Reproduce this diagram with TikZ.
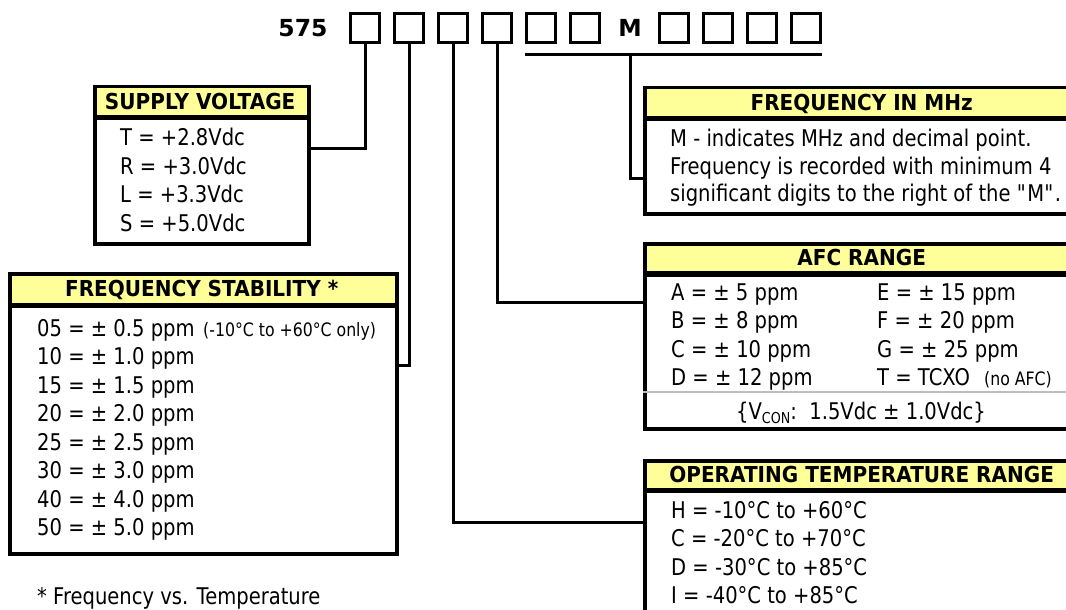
\documentclass[tikz,border=0pt]{standalone}
\usepackage{fontspec}
\setmainfont{DejaVu Sans}[FakeStretch=0.85]
\newfontfamily\codefont{DejaVu Sans}
\newfontfamily\headfont{DejaVu Sans}[FakeStretch=0.91]
\usetikzlibrary{calc}
\definecolor{hdyellow}{RGB}{255,255,153}
\definecolor{sepgray}{RGB}{190,190,190}

\begin{document}
\begin{tikzpicture}[x=1pt, y=-1pt,
  digit/.style={draw, line width=3.3, minimum size=28.5, inner sep=0},
  codetxt/.style={font=\codefont\bfseries\fontsize{23.5}{26}\selectfont, inner sep=0},
  wire/.style={line width=3, line join=miter},
  head/.style={fill=hdyellow, anchor=north west, inner sep=0, minimum height=32,
    text height=16, text depth=0, font=\headfont\bfseries\fontsize{22}{24}\selectfont},
  panel/.style={draw, line width=3.5, anchor=north west, inner sep=0},
  rule/.style={line width=5.5},
  row/.style={anchor=base west, inner sep=0, font=\fontsize{23}{28}\selectfont},
  small/.style={anchor=base west, inner sep=0, font=\fontsize{18.5}{20}\selectfont}]
  \useasboundingbox (0,0) rectangle (1066,610);
  \clip (0,0) rectangle (1066,610);
  % part number with its code boxes
  \node[codetxt] (code) at (303,28) {575};
  \foreach \x [count=\i] in {365,409,453,497,541,585,674,718,762,806}
    \node[digit] (b\i) at (\x,28) {};
  \node[codetxt] (mark) at (630,28) {M};
  \draw[wire] ([yshift=-11]b5.south west) -- ([yshift=-11]b10.south east);
  \coordinate (mtap) at (mark.center |- 0,55);

  % supply voltage
  \node[head, minimum width=214] (svh) at (93,85) {SUPPLY VOLTAGE};
  \node[panel, minimum width=214, minimum height=157] (sv) at (93,85) {};
  \draw[rule] (svh.south west) -- (svh.south east);
  \foreach \txt [count=\i from 0] in {T = +2.8Vdc, R = +3.0Vdc, L = +3.3Vdc, S = +5.0Vdc}
    \node[row] (svr\i) at (120,{145.5+28.7*\i}) {\txt};

  % frequency stability
  \node[head, minimum width=387, minimum height=33] (fsh) at (8,272) {FREQUENCY STABILITY *};
  \node[panel, minimum width=387, minimum height=280] (fs) at (8,272) {};
  \draw[rule] (fsh.south west) -- (fsh.south east);
  \foreach \txt [count=\i from 0] in {05 = ± 0.5 ppm, 10 = ± 1.0 ppm, 15 = ± 1.5 ppm,
      20 = ± 2.0 ppm, 25 = ± 2.5 ppm, 30 = ± 3.0 ppm, 40 = ± 4.0 ppm, 50 = ± 5.0 ppm}
    \node[row] (fsr\i) at (37,{336.5+28.45*\i}) {\txt};
  \node[small] (fsnote) at (203,336.5) {(-10°C to +60°C only)};
  \node[row] (note) at (37,604) {* Frequency vs. Temperature};

  % frequency in MHz
  \node[head, minimum width=437] (fmh) at (643,86) {FREQUENCY IN MHz};
  \node[panel, minimum width=437, minimum height=126] (fm) at (643,86) {};
  \draw[rule] (fmh.south west) -- (fmh.south east);
  \foreach \txt [count=\i from 0] in {M - indicates MHz and decimal point.,
      Frequency is recorded with minimum 4,
      significant digits to the right of the \textquotedbl M\textquotedbl.}
    \node[row] (fmr\i) at (670,{146.5+27.5*\i}) {\txt};

  % afc range
  \node[head, minimum width=437, minimum height=31.5] (afh) at (643,242) {AFC RANGE};
  \node[panel, minimum width=437, minimum height=185] (af) at (643,242) {};
  \draw[rule] (afh.south west) -- (afh.south east);
  \foreach \txt [count=\i from 0] in {A = ± 5 ppm, B = ± 8 ppm, C = ± 10 ppm, D = ± 12 ppm}
    \node[row] (afa\i) at (671,{300.5+28.4*\i}) {\txt};
  \foreach \txt [count=\i from 0] in {E = ± 15 ppm, F = ± 20 ppm, G = ± 25 ppm, T = TCXO}
    \node[row] (afb\i) at (877,{300.5+28.4*\i}) {\txt};
  \node[small] (afnote) at (984,385.7) {(no AFC)};
  \draw[sepgray, line width=2.5] (af.west |- 0,392) -- (af.east |- 0,392);
  \node[row, anchor=base] (vcon) at (861,419)
    {\{V\raisebox{-4pt}{\fontsize{15}{15}\selectfont CON}:\ \ 1.5Vdc ± 1.0Vdc\}};

  % operating temperature range
  \node[head, minimum width=437, minimum height=31] (oth) at (643,459) {OPERATING TEMPERATURE RANGE};
  \node[panel, minimum width=437, minimum height=181] (ot) at (643,459) {};
  \draw[rule] (oth.south west) -- (oth.south east);
  \foreach \txt [count=\i from 0] in {H = -10°C to +60°C, C = -20°C to +70°C,
      D = -30°C to +85°C, I = -40°C to +85°C}
    \node[row] (otr\i) at (671,{518.5+28.4*\i}) {\txt};

  % connectors
  \draw[wire] (b1.south) |- (sv.east |- 0,148);
  \draw[wire] (b2.south) |- (fs.east |- 0,365);
  \draw[wire] (b3.south) |- (ot.west |- 0,522);
  \draw[wire] (b4.south) |- (af.west |- 0,302);
  \draw[wire] (mtap) |- (fm.west |- 0,178);
\end{tikzpicture}
\end{document}
